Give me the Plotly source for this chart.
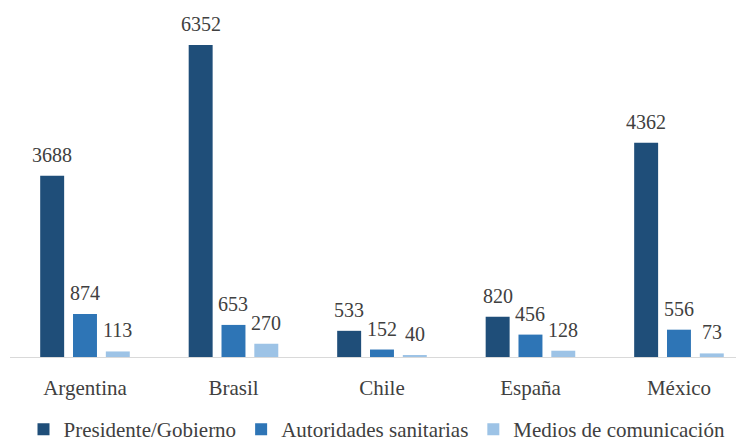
import plotly.graph_objects as go

countries = ["Argentina", "Brasil", "Chile", "España", "México"]
series_names = ["Presidente/Gobierno", "Autoridades sanitarias", "Medios de comunicación"]
presidente = [3688, 6352, 533, 820, 4362]
autoridades = [874, 653, 152, 456, 556]
medios = [113, 270, 40, 128, 73]
colors = ["#1F4E79", "#2E75B6", "#9DC3E6"]

values = [presidente, autoridades, medios]
xs = list(range(len(countries)))
bargap = 0.337
slot = (1 - bargap) / len(values)

FONT = "'Liberation Serif', 'Times New Roman', Times, 'DejaVu Serif', serif"
TXT = "#404040"

fig = go.Figure()
for name, vals, col in zip(series_names, values, colors):
    fig.add_trace(go.Bar(x=xs, y=vals, name=name, marker=dict(color=col, line=dict(width=0))))

annotations = []
for k, vals in enumerate(values):
    for i, v in enumerate(vals):
        annotations.append(dict(
            x=i + (k - 1) * slot, y=v, xref="x", yref="y",
            text=str(v), showarrow=False, yanchor="bottom", xanchor="center",
            yshift=8, font=dict(family=FONT, size=20, color=TXT)))

fig.update_layout(
    width=736, height=434,
    margin=dict(l=2, r=0, t=2, b=85, autoexpand=False),
    barmode="group", bargap=bargap, bargroupgap=0.27,
    plot_bgcolor="white", paper_bgcolor="white",
    font=dict(family=FONT, color=TXT),
    annotations=annotations,
    showlegend=True,
    legend=dict(orientation="h", x=0.5, xanchor="center",
                yref="container", y=0.076, yanchor="top",
                font=dict(family=FONT, size=21, color=TXT), itemwidth=30,
                traceorder="normal"),
)
fig.update_xaxes(tickmode="array", tickvals=xs, ticktext=countries,
                 range=[-0.505, 4.438], showgrid=False, zeroline=False,
                 showline=True, linecolor="#D9D9D9", linewidth=1, ticks="",
                 ticklabelstandoff=12,
                 tickfont=dict(family=FONT, size=21, color=TXT))
fig.update_yaxes(range=[0, 7064], visible=False, showgrid=False, zeroline=False)

fig.write_html("out.html")
